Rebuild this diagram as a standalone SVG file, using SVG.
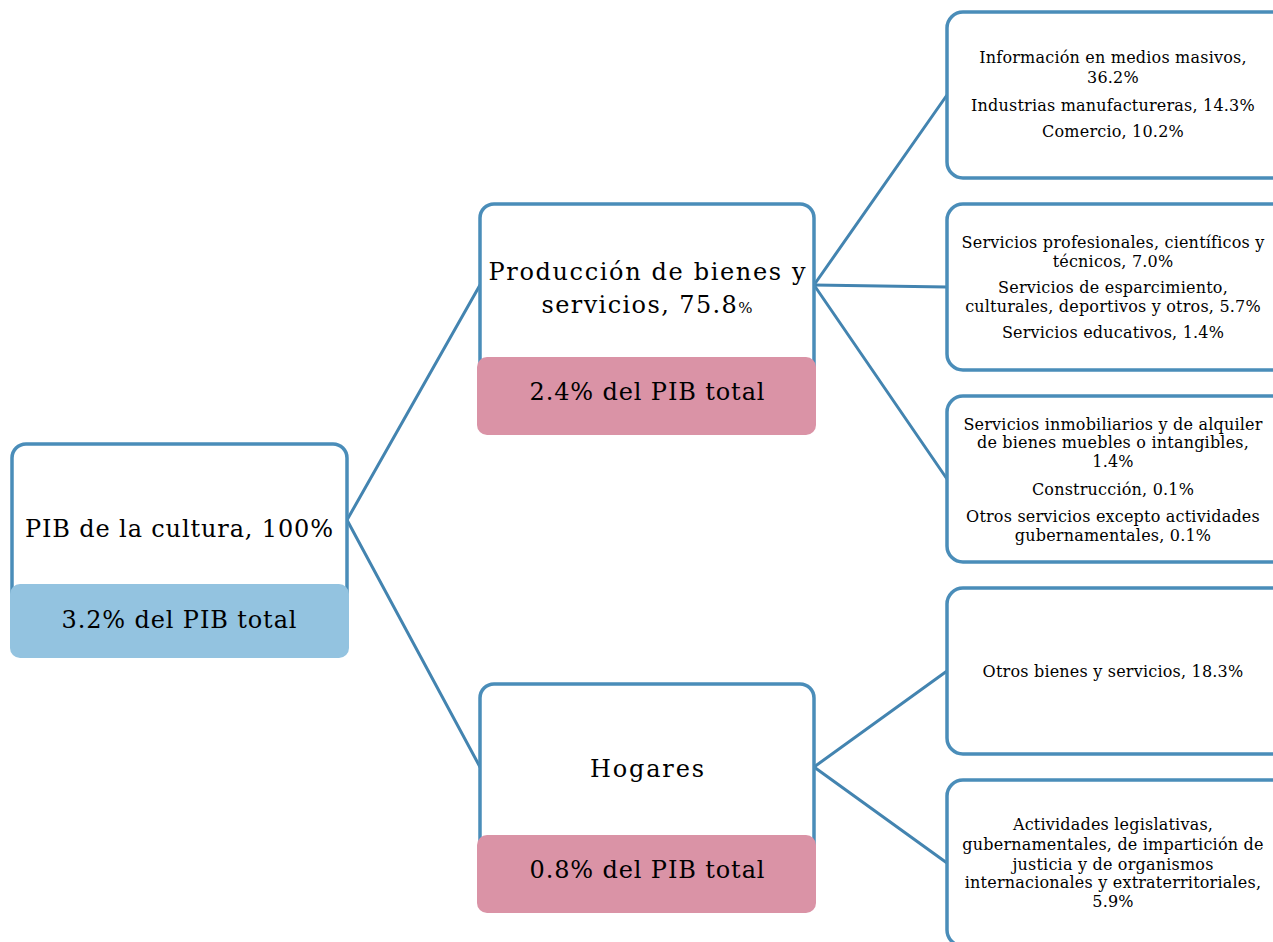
<svg xmlns="http://www.w3.org/2000/svg" width="1273" height="942" viewBox="0 0 1273 942">
<style>
.box{fill:#fff;stroke:#4A8DB9;stroke-width:3.5}
.blue{fill:#93C3E0}
.pink{fill:#DA93A6}
.conn line{stroke:#4384B0;stroke-width:3;stroke-linecap:round}
text{font-family:"DejaVu Serif","Liberation Serif",serif;fill:#000;text-anchor:middle}
.big{font-size:24px}
.sm{font-size:16px;letter-spacing:0.2px}
</style>
<rect width="1273" height="942" fill="#fff"/>
<g id="connectors" class="conn">
<line x1="347" y1="520" x2="480" y2="285"/>
<line x1="347" y1="520" x2="480" y2="767"/>
<line x1="814" y1="285" x2="947" y2="95"/>
<line x1="814" y1="285" x2="947" y2="287"/>
<line x1="814" y1="285" x2="947" y2="479"/>
<line x1="814" y1="767" x2="947" y2="671"/>
<line x1="814" y1="767" x2="947" y2="863"/>
</g>
<g id="root">
<rect class="box" x="12" y="444" width="335" height="170" rx="14"/>
<rect class="blue" x="10" y="584" width="339" height="74" rx="10"/>
<text class="big" x="179" y="537" textLength="308">PIB de la cultura, 100%</text>
<text class="big" x="179" y="628" textLength="235">3.2% del PIB total</text>
</g>
<g id="produccion">
<rect class="box" x="480" y="204" width="334" height="180" rx="14"/>
<rect class="pink" x="477" y="357" width="339" height="78" rx="10"/>
<text class="big" x="647" y="280" textLength="317">Producción de bienes y</text>
<text class="big" x="647" y="313" textLength="211">servicios, 75.8<tspan font-size="15px">%</tspan></text>
<text class="big" x="647" y="400" textLength="235">2.4% del PIB total</text>
</g>
<g id="hogares">
<rect class="box" x="480" y="684" width="334" height="180" rx="14"/>
<rect class="pink" x="477" y="835" width="339" height="78" rx="10"/>
<text class="big" x="647" y="777" textLength="114">Hogares</text>
<text class="big" x="647" y="878" textLength="235">0.8% del PIB total</text>
</g>
<g id="box1">
<rect class="box" x="947" y="12" width="345" height="166" rx="16"/>
<text class="sm" x="1113" y="63">Información en medios masivos,</text>
<text class="sm" x="1113" y="83">36.2%</text>
<text class="sm" x="1113" y="111">Industrias manufactureras, 14.3%</text>
<text class="sm" x="1113" y="137">Comercio, 10.2%</text>
</g>
<g id="box2">
<rect class="box" x="947" y="204" width="345" height="166" rx="16"/>
<text class="sm" x="1113" y="248">Servicios profesionales, científicos y</text>
<text class="sm" x="1113" y="267">técnicos, 7.0%</text>
<text class="sm" x="1113" y="293">Servicios de esparcimiento,</text>
<text class="sm" x="1113" y="312">culturales, deportivos y otros, 5.7%</text>
<text class="sm" x="1113" y="338">Servicios educativos, 1.4%</text>
</g>
<g id="box3">
<rect class="box" x="947" y="396" width="345" height="166" rx="16"/>
<text class="sm" x="1113" y="430">Servicios inmobiliarios y de alquiler</text>
<text class="sm" x="1113" y="448">de bienes muebles o intangibles,</text>
<text class="sm" x="1113" y="467">1.4%</text>
<text class="sm" x="1113" y="495">Construcción, 0.1%</text>
<text class="sm" x="1113" y="522">Otros servicios excepto actividades</text>
<text class="sm" x="1113" y="541">gubernamentales, 0.1%</text>
</g>
<g id="box4">
<rect class="box" x="947" y="588" width="345" height="166" rx="16"/>
<text class="sm" x="1113" y="677">Otros bienes y servicios, 18.3%</text>
</g>
<g id="box5">
<rect class="box" x="947" y="780" width="345" height="166" rx="16"/>
<text class="sm" x="1113" y="830">Actividades legislativas,</text>
<text class="sm" x="1113" y="850">gubernamentales, de impartición de</text>
<text class="sm" x="1113" y="870">justicia y de organismos</text>
<text class="sm" x="1113" y="888">internacionales y extraterritoriales,</text>
<text class="sm" x="1113" y="907">5.9%</text>
</g>
</svg>
